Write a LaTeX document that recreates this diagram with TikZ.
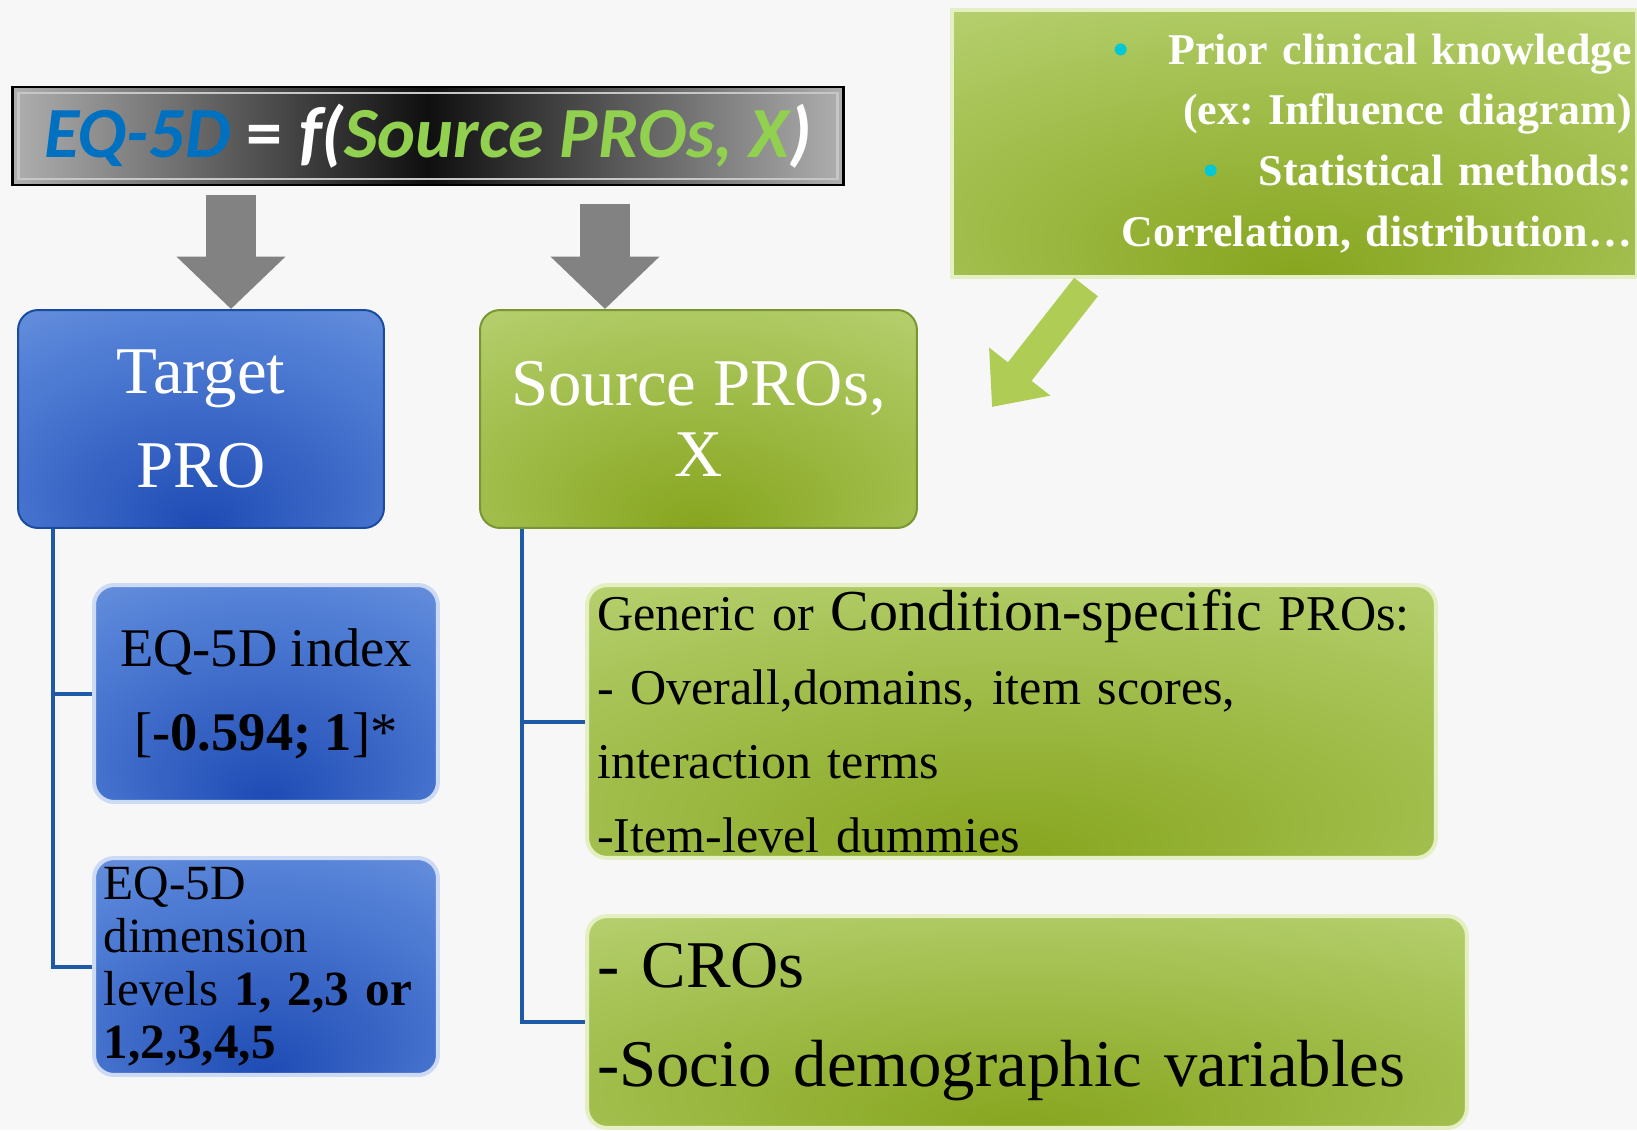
\documentclass[tikz,border=0pt]{standalone}
\usepackage{fontspec}
\setmainfont{Liberation Serif}
\newfontfamily\headfont{Carlito}
\usetikzlibrary{arrows.meta, positioning, calc}
\frenchspacing

\definecolor{bgpaper}{RGB}{247,247,247}
\definecolor{titleedge}{RGB}{175,175,175}
\definecolor{titlecore}{RGB}{15,15,15}
\definecolor{eqblue}{RGB}{0,112,192}
\definecolor{srcgreen}{RGB}{146,208,80}
\definecolor{bluedeep}{RGB}{30,75,180}
\definecolor{bluemid}{RGB}{85,130,215}
\definecolor{bluepale}{RGB}{160,185,235}
\definecolor{bluerim}{RGB}{25,75,160}
\definecolor{bluehalo}{RGB}{205,218,245}
\definecolor{greendeep}{RGB}{135,165,30}
\definecolor{greenmid}{RGB}{172,200,95}
\definecolor{greenpale}{RGB}{218,233,165}
\definecolor{greenrim}{RGB}{120,150,50}
\definecolor{greenhalo}{RGB}{228,240,195}
\definecolor{branchblue}{RGB}{30,90,165}
\definecolor{arrowgray}{RGB}{130,130,130}
\definecolor{hintgreen}{RGB}{175,205,85}
\definecolor{bulletcyan}{RGB}{0,200,215}

\pgfdeclareradialshading{blueglow}{\pgfpoint{0bp}{-25bp}}{color(0bp)=(bluedeep); color(35bp)=(bluemid); color(70bp)=(bluepale)}
\pgfdeclareradialshading{greenglow}{\pgfpoint{0bp}{-25bp}}{color(0bp)=(greendeep); color(35bp)=(greenmid); color(70bp)=(greenpale)}

\begin{document}
\begin{tikzpicture}[x=0.02cm, y=-0.02cm,
  titlebox/.style={draw=black, line width=0.05cm, left color=titleedge, right color=titleedge, middle color=titlecore, minimum width=16.62cm, minimum height=1.96cm, inner sep=0pt},
  headbox/.style={rounded corners=0.4cm, line width=0.04cm, inner sep=0pt, align=center, text=white, minimum height=4.36cm, font=\fontsize{38}{54}\selectfont},
  tgtbox/.style={headbox, shading=blueglow, draw=bluerim},
  srcbox/.style={headbox, shading=greenglow, draw=greenrim},
  priorbox/.style={shading=greenglow, draw=greenhalo, line width=0.08cm, minimum width=13.7cm, minimum height=5.34cm, text width=13.5cm, inner xsep=0.1cm, inner ysep=0pt, align=right, text=white, font=\bfseries\fontsize{25}{34.6}\selectfont},
  subbox/.style={rounded corners=0.4cm, line width=0.08cm, inner sep=0pt},
  bluesub/.style={subbox, shading=blueglow, draw=bluehalo, minimum width=6.88cm, minimum height=4.34cm},
  greensub/.style={subbox, shading=greenglow, draw=greenhalo, align=left},
  branch/.style={draw=branchblue, line width=0.08cm},
  bigarrow/.style={draw=arrowgray, line width=1cm, -{Triangle[width=2.12cm, length=1.05cm]}},
  hintarrow/.style={draw=hintgreen, line width=0.6cm, -{Triangle[width=1.5cm, length=0.9cm]}}
]
  \useasboundingbox (0,0) rectangle (1637,1130);
  \fill[bgpaper] (0,0) rectangle (1637,1130);

  % Equation banner
  \node[titlebox] (eqn) at (428,136) {\headfont\bfseries\itshape\fontsize{41}{41}\selectfont
    \textcolor{eqblue}{EQ-5D} \textcolor{white}{\upshape=} \textcolor{white}{f(}\textcolor{srcgreen}{Source PROs, X}\textcolor{white}{)}};
  \draw[titleedge!70, line width=0.05cm] ([shift={(0.14cm,-0.14cm)}]eqn.north west) rectangle ([shift={(-0.14cm,0.14cm)}]eqn.south east);

  % Prior knowledge
  \node[priorbox] (prior) at (1294.5,143.5) {%
    \textcolor{bulletcyan}{\textbullet}\hspace{0.9em}Prior clinical knowledge\\
    (ex: Influence diagram)\\
    \textcolor{bulletcyan}{\textbullet}\hspace{0.9em}Statistical methods:\\
    Correlation, distribution\ldots};

  % Target and source
  \node[tgtbox, minimum width=7.32cm] (tgt) at (201,419) {Target\\PRO};
  \node[srcbox, minimum width=8.74cm, font=\fontsize{38}{40}\selectfont] (src) at (698.5,419) {Source PROs,\\X};

  % Target outcomes
  \node[bluesub, align=center, font=\fontsize{31}{48}\selectfont] (idx) at (266,693.5)
    {EQ-5D index\\{}[\textbf{-0.594; 1}]*};
  \node[bluesub, align=left, text width=6.5cm, inner xsep=0.19cm, font=\fontsize{28}{30}\selectfont] (dim) at (266,966.5)
    {EQ-5D\\dimension\\levels \textbf{1, 2,3 or}\\\textbf{1,2,3,4,5}};

  % Source variables
  \node[greensub, minimum width=16.98cm, minimum height=5.46cm, text width=16.58cm, inner xsep=0.2cm, font=\fontsize{28.5}{42}\selectfont] (gen) at (1011.5,721.5)
    {Generic or {\fontsize{33}{42}\selectfont Condition-specific} PROs:\\- Overall,domains, item scores,\\interaction terms\\-Item-level dummies};
  \node[greensub, minimum width=17.6cm, minimum height=4.24cm, text width=17.2cm, inner xsep=0.2cm, font=\fontsize{38}{56}\selectfont] (cro) at (1027,1022)
    {- CROs\\-Socio demographic variables};

  % Tree lines
  \draw[branch] ([xshift=0.72cm]tgt.south west) |- (idx.west);
  \draw[branch] ([xshift=0.72cm]tgt.south west) |- (dim.west);
  \draw[branch] ([xshift=0.86cm]src.south west) |- (gen.west);
  \draw[branch] ([xshift=0.86cm]src.south west) |- (cro.west);

  % Arrows
  \coordinate (leftdrop) at (231,195);
  \coordinate (rightdrop) at (605,204);
  \draw[bigarrow] (leftdrop) -- (leftdrop |- tgt.north);
  \draw[bigarrow] (rightdrop) -- (rightdrop |- src.north);
  \coordinate (hinttail) at (1086,287);
  \coordinate (hinttip) at (992,407);
  \draw[hintarrow] (hinttail) -- (hinttip);
\end{tikzpicture}
\end{document}
